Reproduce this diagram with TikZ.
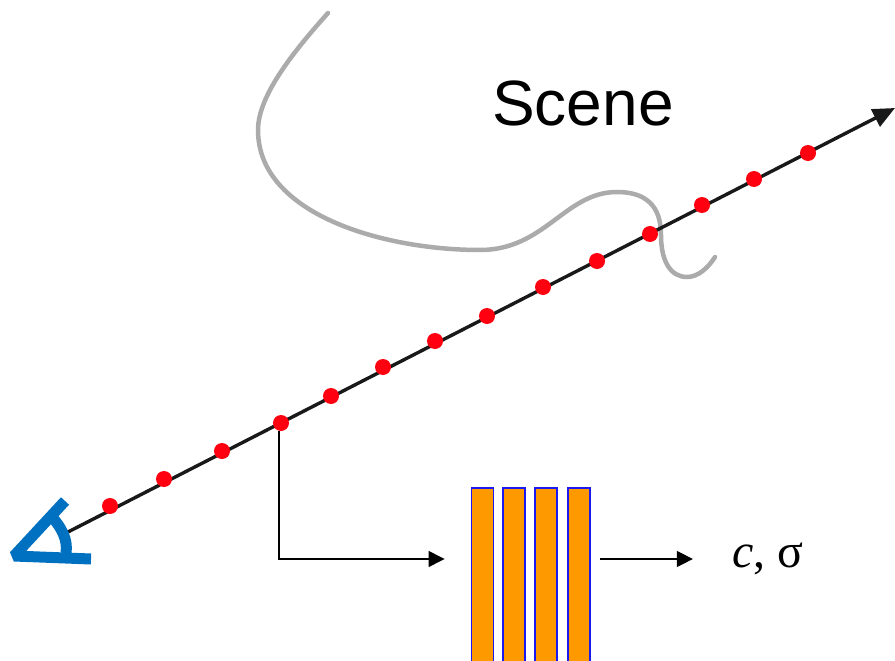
\documentclass[tikz,border=0pt]{standalone}
\usepackage{fontspec}
\setmainfont{Liberation Sans}
\newfontfamily\symfont{Liberation Serif}
\usetikzlibrary{arrows.meta, positioning, calc}
\definecolor{cblue}{HTML}{0070C0}
\definecolor{corange}{HTML}{FF9900}
\definecolor{cedge}{HTML}{1A1AF0}
\definecolor{cgrey}{HTML}{ABABAB}
\definecolor{cred}{HTML}{FF0010}
\tikzset{
  ray/.style={-{Triangle[length=22pt,width=19pt]}, draw=black!90, line width=3.4pt},
  arrow/.style={-{Triangle[length=16pt,width=16pt]}, draw=black, line width=1.3pt},
  sample/.style={circle, fill=cred, inner sep=0pt, minimum size=16pt},
  bar/.style={draw=cedge, fill=corange, line width=1.9pt, anchor=north, inner sep=0pt, minimum width=22pt, minimum height=180pt},
  surface/.style={draw=cgrey, line width=4.5pt, line cap=round},
  viewer/.style={draw=cblue, line width=11pt},
  title/.style={font=\fontsize{64}{64}\selectfont},
  output/.style={font=\symfont\fontsize{48}{48}\selectfont},
}
\begin{document}
\begin{tikzpicture}[x=1pt,y=-1pt]
  \clip (0,0) rectangle (895,661);
  \fill[white] (0,0) rectangle (895,661);
  % scene surface
  \draw[surface] (328,13) .. controls (295,50) and (258,95) .. (258,130)
    .. controls (258,215) and (385,250) .. (480,250)
    .. controls (545,250) and (565,192) .. (617,192)
    .. controls (645,192) and (661,205) .. (661,235)
    .. controls (661,262) and (671,277) .. (687,277)
    .. controls (698,277) and (708,268) .. (715,257);
  \node[title] (scene) at (583,103) {Scene};
  % camera ray
  \coordinate (start) at (68,532);
  \coordinate (tip) at (895,108);
  \draw[ray] (start) -- (tip);
  \foreach \x/\y [count=\i] in {110/506, 164/479, 222/451, 281/423, 331/396, 383/367, 435/341, 487/316, 543/287, 597/261, 650/234, 702/205, 754/179, 808/153} {
    \node[sample] (p\i) at (\x,\y) {};
  }
  % eye
  \draw[viewer, miter limit=1] (91,559) -- (14,556) -- (65,501);
  \draw[cblue, line width=11pt] (49,514) .. controls (62,527) and (68,540) .. (66,553);
  % network
  \foreach \x [count=\i] in {482.5, 514, 546, 579} {
    \node[bar] (bar\i) at (\x,487) {};
  }
  \node[output] (result) at (768,559) {{\itshape c}, σ};
  \draw[arrow, shorten >=26pt] ([xshift=-2pt]p4.south) |- (bar1.west |- result);
  \draw[arrow, shorten <=9pt, shorten >=36pt] (bar4.east |- result) -- (result);
\end{tikzpicture}
\end{document}
